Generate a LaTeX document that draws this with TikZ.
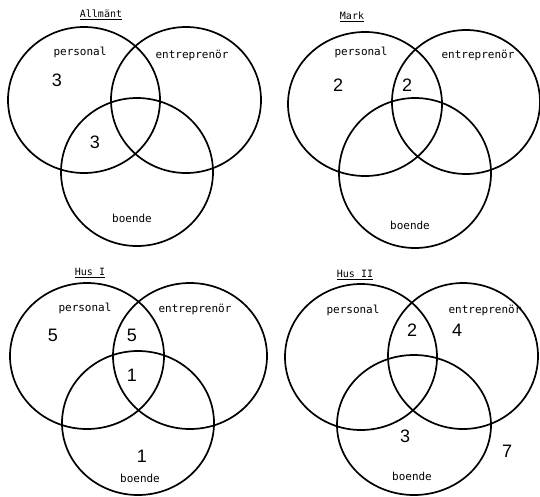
\documentclass[tikz,border=0pt]{standalone}
\usepackage{fontspec}
\setmonofont{DejaVu Sans Mono}
\newfontfamily\numfont{Liberation Sans}
\begin{document}
\begin{tikzpicture}[x=1pt,y=-1pt]
  \tikzset{
    ring/.style={draw=black,line width=1.7pt},
    heading/.style={font=\ttfamily\fontsize{10}{12}\selectfont},
    label/.style={font=\ttfamily\fontsize{11}{13}\selectfont},
    count/.style={font=\numfont\fontsize{18}{20}\selectfont}
  }
  \useasboundingbox[fill=white] (0,0) rectangle (540,496);

  % Allmaent, top left.
  \draw[ring] (84,100) ellipse [x radius=76,y radius=73];
  \draw[ring] (186,100) ellipse [x radius=75,y radius=73];
  \draw[ring] (137,172) ellipse [x radius=76,y radius=74];
  \node[heading] (allTitle) at (101,15) {\underline{Allmänt}};
  \node[label] (allPers) at (80,52) {personal};
  \node[label] (allEntr) at (192,55) {entreprenör};
  \node[label] (allBoen) at (132,218) {boende};
  \node[count] (allA) at (57,80) {3};
  \node[count] (allB) at (95,142) {3};

  % Mark, top right.
  \draw[ring] (365,104) ellipse [x radius=77,y radius=72];
  \draw[ring] (466,102) ellipse [x radius=74,y radius=72];
  \draw[ring] (415,173) ellipse [x radius=76,y radius=75];
  \node[heading] (markTitle) at (352,17) {\underline{Mark}};
  \node[label] (markPers) at (361,52) {personal};
  \node[label] (markEntr) at (478,55) {entreprenör};
  \node[label] (markBoen) at (410,225) {boende};
  \node[count] (markA) at (338,85) {2};
  \node[count] (markB) at (407,85) {2};

  % Hus I, bottom left.
  \draw[ring] (87,356) ellipse [x radius=77,y radius=73];
  \draw[ring] (190,356) ellipse [x radius=77,y radius=73];
  \draw[ring] (138,423) ellipse [x radius=76,y radius=72];
  \node[heading] (husATitle) at (90,273) {\underline{Hus I}};
  \node[label] (husAPers) at (85,308) {personal};
  \node[label] (husAEntr) at (195,309) {entreprenör};
  \node[label] (husABoen) at (140,478) {boende};
  \node[count] (husAA) at (53,335) {5};
  \node[count] (husAB) at (132,335) {5};
  \node[count] (husAC) at (132,375) {1};
  \node[count] (husAD) at (142,456) {1};

  % Hus II, bottom right.
  \draw[ring] (361,357) ellipse [x radius=76,y radius=73];
  \draw[ring] (463,356) ellipse [x radius=75,y radius=73];
  \draw[ring] (414,425) ellipse [x radius=77,y radius=70];
  \node[heading] (husBTitle) at (355,275) {\underline{Hus II}};
  \node[label] (husBPers) at (353,310) {personal};
  \node[label] (husBEntr) at (485,310) {entreprenör};
  \node[label] (husBBoen) at (412,476) {boende};
  \node[count] (husBA) at (412,330) {2};
  \node[count] (husBB) at (457,330) {4};
  \node[count] (husBC) at (405,436) {3};
  \node[count] (husBD) at (507,451) {7};
\end{tikzpicture}
\end{document}
